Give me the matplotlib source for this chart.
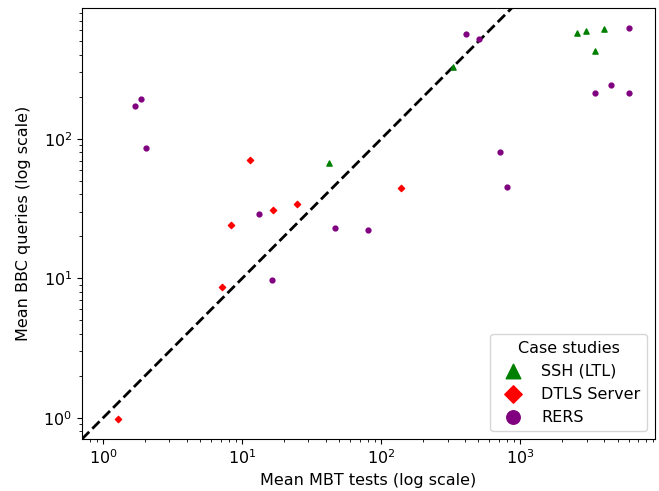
import matplotlib
matplotlib.use("Agg")
import matplotlib.pyplot as plt
import numpy as np

plt.rcParams['font.size'] = 11.5

ssh_x = [42.3, 330, 2558, 2967, 4018, 3427]
ssh_y = [67.3, 326, 575, 595, 611, 430]

dtls_x = [1.29, 7.22, 8.38, 11.4, 16.7, 24.9, 139]
dtls_y = [0.98, 8.73, 24.2, 70.3, 31.1, 34.4, 44.3]

rers_x = [1.70, 1.88, 2.04, 13.3, 16.4, 46.4, 80.6, 404, 507, 718, 802, 3427, 4515, 6050, 6050]
rers_y = [173, 194, 85.8, 29.0, 9.71, 23.1, 22.3, 562, 521, 80.7, 45.3, 214, 244, 628, 213]

fig = plt.figure(figsize=(6.59, 4.91), dpi=100)
ax = fig.add_axes([0.1244, 0.106, 0.994 - 0.1244, 0.984 - 0.106])

ax.scatter(ssh_x, ssh_y, marker='^', color='green', s=14, label='SSH (LTL)', zorder=3)
ax.scatter(dtls_x, dtls_y, marker='D', color='red', s=10, label='DTLS Server', zorder=3)
ax.scatter(rers_x, rers_y, marker='o', color='purple', s=12, label='RERS', zorder=3)

lims = [0.5, 2e4]
ax.plot(lims, lims, 'k--', lw=2, zorder=2)

ax.set_xscale('log')
ax.set_yscale('log')
ax.set_xlim(0.706, 9300)
ax.set_ylim(0.707, 870)
ax.set_xlabel('Mean MBT tests (log scale)')
ax.set_ylabel('Mean BBC queries (log scale)', labelpad=9)
ax.legend(title='Case studies', loc='lower right', markerscale=2.8)

fig.savefig('out.png', dpi=100)
